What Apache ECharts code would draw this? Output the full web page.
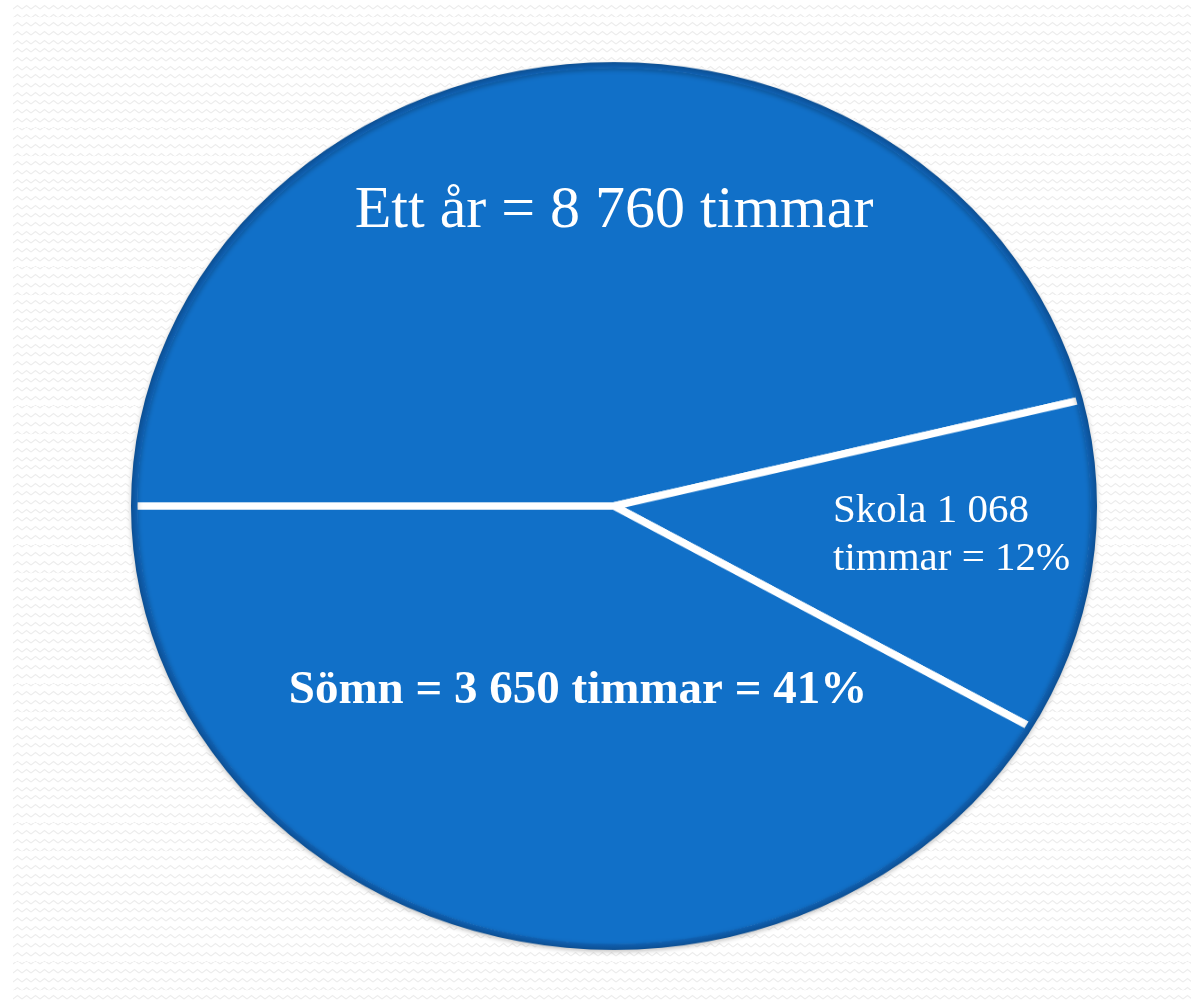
<!DOCTYPE html>
<html>
<head>
<meta charset="utf-8">
<script src="https://cdn.jsdelivr.net/npm/echarts@6/dist/echarts.min.js"></script>
<style>
  html, body { margin: 0; padding: 0; background: #fff; }
  #wrap { position: relative; width: 1191px; height: 1003px; overflow: hidden; }
  #bg {
    position: absolute; left: 13px; top: 3px; right: 0; bottom: 0;
    background-image: url("data:image/svg+xml,%3Csvg xmlns='http://www.w3.org/2000/svg' width='9' height='9'%3E%3Cpolyline points='0,6 4.5,2.5 9,6' fill='none' stroke='%23ededed' stroke-width='1.1'/%3E%3C/svg%3E");
    background-size: 9px 8.7px;
  }
  /* the original pie is an ellipse, so squash the circle a bit */
  #pie {
    position: absolute; left: 0; top: 0; width: 1191px; height: 1003px;
    transform-origin: 614px 506px; transform: scaleY(0.919);
  }
  #labels { position: absolute; left: 0; top: 0; width: 1191px; height: 1003px; }
</style>
</head>
<body>
<div id="wrap">
  <div id="bg"></div>
  <div id="pie"></div>
  <div id="labels"></div>
</div>
<script>
// data
const totalHours = 8760;
const sliceNames = ['Övrig tid', 'Skola', 'Sömn'];
const sliceHours = [4042, 1068, 3650];

const fmt = v => String(v).replace(/\B(?=(\d{3})+(?!\d))/g, ' ');
const pct = v => Math.floor(v / totalHours * 100);

const blue = '#1170c8';

// pie
const pieChart = echarts.init(document.getElementById('pie'));
pieChart.setOption({
  animation: false,
  series: [
    {
      type: 'pie',
      center: [614, 506],
      radius: [0, 481],
      startAngle: 180,
      clockwise: true,
      silent: true,
      label: { show: false },
      labelLine: { show: false },
      itemStyle: { color: blue, borderColor: '#ffffff', borderWidth: 8 },
      data: sliceNames.map((n, i) => ({ name: n, value: sliceHours[i] }))
    },
    {
      // darker edge, also hides the white border on the outer arc
      type: 'pie',
      center: [614, 506],
      radius: [476.5, 483],
      silent: true,
      z: 3,
      label: { show: false },
      labelLine: { show: false },
      itemStyle: {
        color: {
          type: 'radial', x: 0.5, y: 0.5, r: 0.5,
          colorStops: [
            { offset: 0.985, color: '#1063b6' },
            { offset: 1, color: '#0c4f93' }
          ]
        },
        shadowBlur: 5,
        shadowColor: 'rgba(0,0,0,0.25)',
        shadowOffsetY: 2
      },
      data: [{ value: totalHours }]
    }
  ]
});

// texts (drawn unsquashed on top)
const labelChart = echarts.init(document.getElementById('labels'));
const serif = '"Liberation Serif", "DejaVu Serif", serif';
labelChart.setOption({
  animation: false,
  graphic: [
    {
      type: 'text', x: 614, y: 211, silent: true,
      style: {
        text: 'Ett år = ' + fmt(totalHours) + ' timmar',
        fill: '#fff', fontSize: 60, fontFamily: serif,
        align: 'center', verticalAlign: 'middle'
      }
    },
    {
      type: 'text', x: 833, y: 535, silent: true,
      style: {
        text: sliceNames[1] + ' ' + fmt(sliceHours[1]) + '\ntimmar = ' + pct(sliceHours[1]) + '%',
        fill: '#fff', fontSize: 41, lineHeight: 48, fontFamily: serif,
        align: 'left', verticalAlign: 'middle'
      }
    },
    {
      type: 'text', x: 578, y: 691, silent: true,
      style: {
        text: sliceNames[2] + ' = ' + fmt(sliceHours[2]) + ' timmar = ' + pct(sliceHours[2]) + '%',
        fill: '#fff', fontSize: 47, fontWeight: 'bold', fontFamily: serif,
        align: 'center', verticalAlign: 'middle'
      }
    }
  ]
});
</script>
</body>
</html>
